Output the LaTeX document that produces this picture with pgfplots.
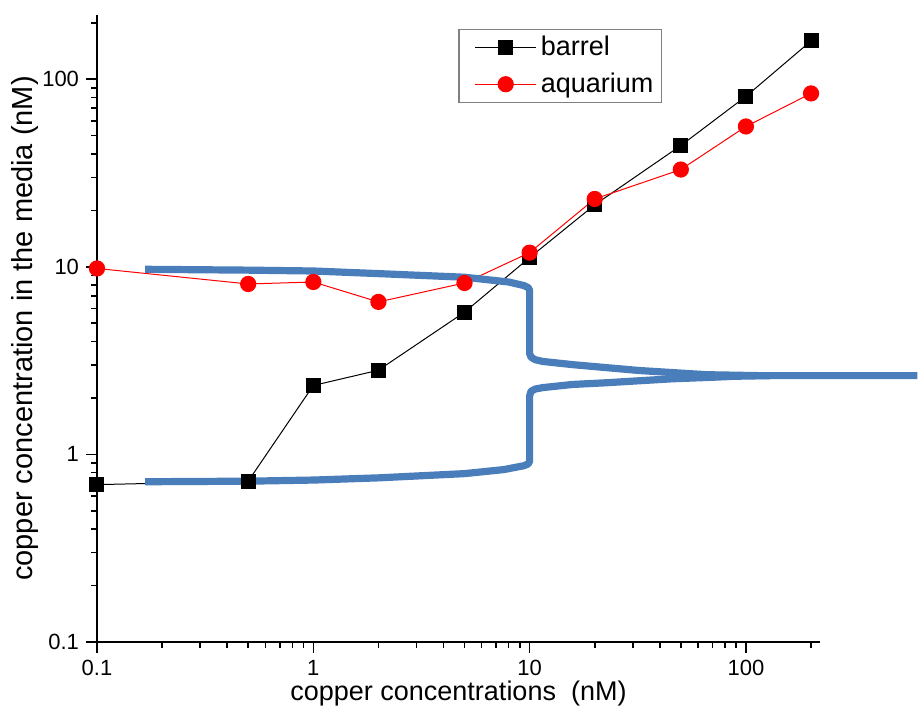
\documentclass[border=0pt]{standalone}
\usepackage{fontspec}
\setmainfont{Liberation Sans}
\usepackage{pgfplots}
\pgfplotsset{compat=1.18}
\definecolor{curveblue}{RGB}{74,126,187}
\begin{document}
\begin{tikzpicture}
\begin{axis}[
  xmode=log, ymode=log,
  scale only axis, width=361.5pt, height=313.5pt,
  xmin=0.1, xmax=220, ymin=0.1, ymax=220,
  axis x line*=bottom, axis y line*=left,
  axis line style={line width=1pt},
  tick style={black, line width=0.8pt},
  tick align=outside,
  major tick length=5.5pt, minor tick length=3pt,
  xtick={0.1,1,10,100}, xticklabels={0.1,1,10,100},
  ytick={0.1,1,10,100}, yticklabels={0.1,1,10,100},
  minor xtick={0.2,0.3,0.4,0.5,0.6,0.7,0.8,0.9,2,3,4,5,6,7,8,9,20,30,40,50,60,70,80,90,200},
  minor ytick={0.2,0.3,0.4,0.5,0.6,0.7,0.8,0.9,2,3,4,5,6,7,8,9,20,30,40,50,60,70,80,90,200},
  /pgf/number format/assume math mode=true,
  ticklabel style={font=\fontsize{11}{13}\selectfont},
  xlabel={copper concentrations\ \ (nM)},
  ylabel={copper concentration in the media (nM)},
  xlabel style={font=\fontsize{13.5}{15}\selectfont, yshift=4pt},
  ylabel style={font=\fontsize{14.5}{16}\selectfont, yshift=-5pt},
  clip=false,
  legend style={at={(0.5,0.978)}, anchor=north west, draw=gray, line width=0.6pt,
    font=\fontsize{13.5}{15}\selectfont, row sep=3pt, inner xsep=2pt, inner ysep=1.5pt},
  legend cell align=left,
  legend image code/.code={\path (-0.2cm,0cm); \draw[mark repeat=2,mark phase=2] plot coordinates {(0cm,0cm) (0.54cm,0cm) (1.08cm,0cm)};},
]
\addplot[black, line width=0.5pt, mark=square*, mark size=3.5pt, mark options={solid, fill=black}]
coordinates {(0.1,0.69) (0.5,0.72) (1,2.33) (2,2.81) (5,5.73) (10,11.2) (20,21.4) (50,44.3) (100,81) (200,160)};
\addlegendentry{barrel}
\addplot[red, line width=0.5pt, mark=*, mark size=3.8pt, mark options={solid, fill=red}]
coordinates {(0.1,9.8) (0.5,8.1) (1,8.3) (2,6.5) (5,8.2) (10,11.9) (20,23) (50,33) (100,56) (200,84)};
\addlegendentry{aquarium}
\addplot[curveblue, line width=3.6pt, line join=round, forget plot]
coordinates {(0.167,9.7) (0.5,9.6) (1,9.5) (2,9.2) (5,8.8) (8,8.3) (9.4,7.95) (9.85,7.75) (10,7.5)
 (10,3.45) (10.15,3.3) (10.6,3.2) (11.5,3.13) (15.8,3.01) (22.7,2.90) (32.2,2.80) (45.8,2.73) (65.8,2.66) (115,2.63) (620,2.63)};
\addplot[curveblue, line width=3.6pt, line join=round, forget plot]
coordinates {(0.167,0.715) (0.5,0.72) (1,0.73) (2,0.75) (5,0.79) (7.6,0.83) (9.4,0.87) (9.85,0.89) (10,0.92)
 (10,2.05) (10.15,2.17) (10.6,2.23) (11.5,2.27) (15.8,2.36) (22.7,2.41) (32.2,2.47) (45.8,2.53) (65.8,2.57) (90,2.61) (130,2.63)};
\end{axis}
\pgfresetboundingbox
\path ([xshift=-48.5pt,yshift=-37.5pt]current axis.south west) rectangle ([xshift=50.5pt,yshift=7.5pt]current axis.north east);
\end{tikzpicture}
\end{document}
